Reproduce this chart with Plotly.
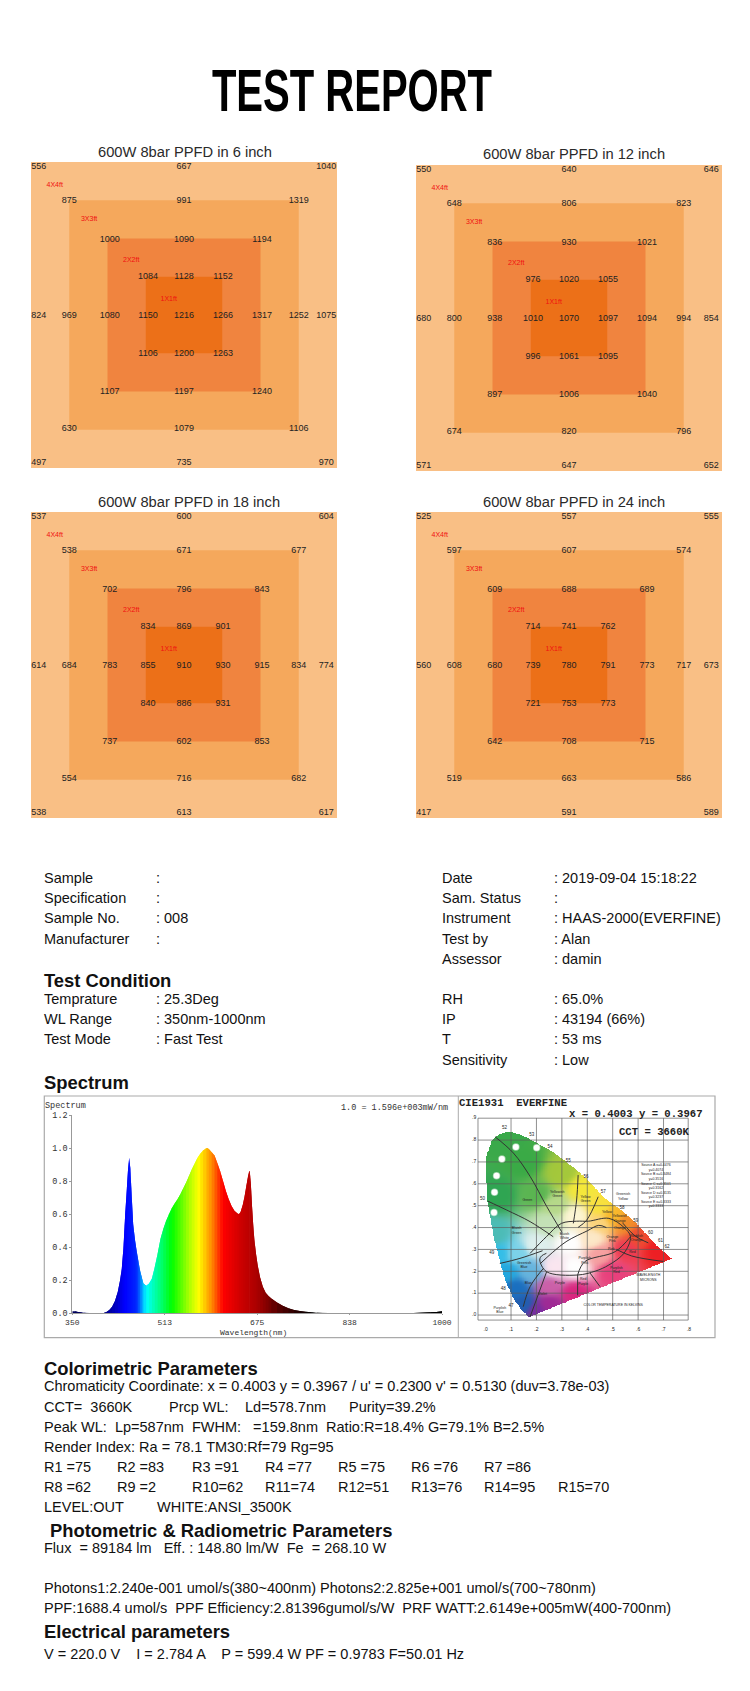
import numpy as np
import plotly.graph_objects as go

W, H = 750, 1691

# ---------- PPFD data ----------
panel_titles = ["600W 8bar PPFD in 6 inch", "600W 8bar PPFD in 12 inch",
                "600W 8bar PPFD in 18 inch", "600W 8bar PPFD in 24 inch"]
ppfd_6 = [[556, 667, 1040], [875, 991, 1319], [1000, 1090, 1194], [1084, 1128, 1152],
          [824, 969, 1080, 1150, 1216, 1266, 1317, 1252, 1075],
          [1106, 1200, 1263], [1107, 1197, 1240], [630, 1079, 1106], [497, 735, 970]]
ppfd_12 = [[550, 640, 646], [648, 806, 823], [836, 930, 1021], [976, 1020, 1055],
           [680, 800, 938, 1010, 1070, 1097, 1094, 994, 854],
           [996, 1061, 1095], [897, 1006, 1040], [674, 820, 796], [571, 647, 652]]
ppfd_18 = [[537, 600, 604], [538, 671, 677], [702, 796, 843], [834, 869, 901],
           [614, 684, 783, 855, 910, 930, 915, 834, 774],
           [840, 886, 931], [737, 602, 853], [554, 716, 682], [538, 613, 617]]
ppfd_24 = [[525, 557, 555], [597, 607, 574], [609, 688, 689], [714, 741, 762],
           [560, 608, 680, 739, 780, 791, 773, 717, 673],
           [721, 753, 773], [642, 708, 715], [519, 663, 586], [417, 591, 589]]
ring_sizes = [4, 3, 2, 1]
ring_names = ["4X4ft", "3X3ft", "2X2ft", "1X1ft"]
ring_colors = ["#F9BF85", "#F5A85C", "#F0843F", "#EC7018"]
col_ft = [-1.90, -1.50, -0.97, -0.47, 0.0, 0.51, 1.02, 1.50, 1.86]
row_ft = [1.94, 1.49, 0.99, 0.50, -0.01, -0.50, -1.00, -1.49, -1.93]
name_x = [-1.69, -1.24, -0.69, -0.20]
name_y = [1.70, 1.25, 0.72, 0.21]

# ---------- Spectrum data ----------
wl = [350, 355, 360, 365, 370, 380, 390, 400, 405, 410, 415, 420, 425, 430, 434, 437, 440, 443, 446, 448, 450, 452, 454,
      457, 460, 463, 466, 469, 472, 475, 480, 485, 490, 495, 500, 505, 510, 515, 520, 525, 530, 535, 540, 545,
      550, 555, 560, 565, 570, 575, 580, 585, 587, 590, 595, 600, 605, 610, 615, 620, 625, 630, 635, 640, 643,
      646, 650, 653, 656, 659, 661, 662, 664, 666, 668, 670, 673, 676, 680, 685, 690, 695, 700, 710, 720, 730,
      740, 750, 760, 770, 780, 800, 850, 900, 950, 980, 990, 1000]
spd = [.012, .012, .008, .006, .004, .002, .001, .001, .002, .008, .02, .04, .075, .13, .20, .27, .40, .60, .76, .87, .94, .88, .74,
       .54, .45, .38, .32, .26, .22, .18, .167, .18, .21, .28, .36, .45, .51, .56, .60, .635, .665, .69, .72, .755,
       .79, .83, .87, .905, .94, .965, .985, .998, 1.0, .995, .975, .955, .91, .86, .80, .74, .69, .65, .62, .605, .60,
       .615, .66, .71, .77, .83, .86, .86, .78, .65, .54, .45, .36, .29, .22, .16, .125, .105, .09, .065, .045, .03,
       .02, .014, .009, .006, .004, .002, .001, .001, .002, .006, .008, .012]
spec_tick_vals = [350, 512.5, 675, 837.5, 1000]
spec_tick_text = ["350", "513", "675", "838", "1000"]
color_stop_nm = [350, 400, 425, 442, 463, 480, 505, 525, 555, 572, 595, 615, 650, 675, 710, 770, 1000]
color_stop_rgb = [(0, 0, 90), (0, 0, 110), (0, 0, 190), (0, 0, 255), (0, 40, 255), (0, 255, 255), (0, 255, 120), (0, 255, 0),
                  (170, 255, 0), (255, 255, 0), (255, 140, 0), (255, 0, 0), (200, 0, 0), (170, 0, 0), (90, 0, 0),
                  (0, 0, 0), (0, 0, 0)]

# ---------- CIE data ----------
locus_x = [.170, .142, .109, .076, .054, .028, .008, .001, .001, .024, .056, .089, .128, .187, .253, .318, .397, .463, .541, .594, .672, .731]
locus_y = [-.008, .023, .076, .160, .252, .373, .511, .633, .724, .800, .831, .838, .831, .797, .755, .701, .625, .541, .473, .419, .320, .259]
anchor_x = [.08, .15, .05, .20, .27, .30, .38, .45, .50, .55, .60, .68, .55, .45, .50, .35, .25, .20, .15, .12, .08, .05, .12, .03, .20, .33, .27, .35, .25, .18, .42, .45, .35, .25]
anchor_y = [.80, .70, .55, .55, .50, .65, .58, .50, .45, .42, .36, .30, .30, .28, .20, .10, .05, .02, .05, .12, .20, .28, .28, .37, .32, .33, .22, .22, .13, .20, .35, .42, .45, .42]
anchor_rgb = [(58, 169, 74), (58, 170, 70), (47, 165, 82), (90, 181, 81), (182, 217, 138), (164, 200, 59), (245, 232, 58), (249, 226, 62),
              (248, 184, 42), (241, 141, 42), (238, 75, 48), (237, 31, 36), (239, 58, 82), (246, 160, 160), (232, 64, 124), (217, 39, 127),
              (160, 42, 149), (122, 45, 160), (31, 95, 176), (26, 111, 191), (34, 168, 223), (51, 190, 232), (125, 211, 234), (76, 188, 182),
              (223, 240, 238), (255, 255, 255), (251, 230, 240), (255, 255, 255), (204, 96, 168), (102, 181, 222), (253, 233, 200),
              (252, 212, 124), (253, 246, 213), (196, 226, 183)]
region_lines = [
    ([.037, .109, .175, .240, .299], [.815, .741, .634, .497, .381]),
    ([.008, .083, .175, .266], [.521, .480, .427, .358]),
    ([.056, .135, .224], [.236, .259, .294]),
    ([.148, .175, .227], [.038, .130, .213]),
    ([.364, .358, .345], [.640, .526, .419]),
    ([.443, .397, .364], [.541, .433, .401]),
    ([.175, .239, .298, .358, .404, .485, .544, .570, .544, .485, .432, .362, .240, .213, .220, .239], [.282, .358, .419, .429, .429, .442, .401, .358, .282, .229, .201, .183, .198, .252, .270, .282]),
    ([.362, .390, .510, .570], [.183, .244, .290, .358]),
    ([.175, .240], [-.008, .198]),
    ([.362, .362], [.183, .090]),
    ([.411, .450], [.192, .130]),
    ([.515, .575, .700], [.300, .270, .245]),
    ([.540, .590, .640], [.420, .360, .330]),
    ([.215, .262, .320, .400, .445, .475], [.235, .285, .338, .385, .410, .400]),
]
white_x = [.119, .201, .064, .043, .035, .033]
white_y = [.768, .765, .713, .637, .561, .469]
cie_labels = ["Green", "Yellowish<br>Green", "Yellow<br>Green", "Greenish<br>Yellow", "Yellow", "Yellowish<br>Orange", "Orange",
              "Reddish<br>Orange", "Pink", "Red", "Orange<br>Pink", "Purplish<br>Red", "Red<br>Purple", "Purple", "Violet", "Blue",
              "Greenish<br>Blue", "Bluish<br>Green", "Purplish<br>Blue", "Purplish<br>Pink", "Bluish<br>White", "COLOR TEMPERATURE IN KELVINS",
              "WAVELENGTH<br>MICRONS", "Source A x=0.4476<br>y=0.4074<br>Source B x=0.3484<br>y=0.3516<br>Source C x=0.3101<br>y=0.3162<br>Source D x=0.3135<br>y=0.3237<br>Source E x=0.3333<br>y=0.3333"]
cie_label_x = [.164, .282, .393, .541, .478, .528, .528, .594, .495, .578, .499, .515, .384, .292, .224, .168, .151, .122, .056, .390, .310, .502, .640, .670]
cie_label_y = [.526, .553, .529, .541, .470, .442, .399, .351, .300, .288, .348, .206, .152, .148, .096, .148, .229, .386, .023, .250, .360, .046, .170, .590]
nm_labels = ["52", "53", "54", "55", "56", "57", "58", "59", "60", "61", "62", "50", "49", "48", "47"]
nm_x = [.074, .182, .253, .325, .395, .463, .537, .591, .649, .688, .714, -.012, .024, .069, .100]
nm_y = [.857, .826, .767, .703, .630, .562, .492, .431, .376, .339, .312, .533, .282, .118, .043]
grid_x = [-.03, .1, .2, .3, .4, .5, .6, .7, .797]
grid_y = [-.023, .0, .1, .2, .3, .4, .5, .6, .7, .8, .9]
axis_x_text = [".0", ".1", ".2", ".3", ".4", ".5", ".6", ".7", ".8"]
axis_x_pos = [0, .1, .2, .3, .4, .5, .6, .7, .8]
axis_y_pos = [0, .1, .2, .3, .4, .5, .6, .7, .8, .9]
axis_y_text = [".0", ".1", ".2", ".3", ".4", ".5", ".6", ".7", ".8", ".9"]

# ---------- Page text ----------
info_left = [("Sample", ":"), ("Specification", ":"), ("Sample No.", ": 008"), ("Manufacturer", ":")]
info_right = [("Date", ": 2019-09-04 15:18:22"), ("Sam. Status", ":"), ("Instrument", ": HAAS-2000(EVERFINE)"),
              ("Test by", ": Alan"), ("Assessor", ": damin")]
cond_left = [("Temprature", ": 25.3Deg"), ("WL Range", ": 350nm-1000nm"), ("Test Mode", ": Fast Test")]
cond_right = [("RH", ": 65.0%"), ("IP", ": 43194 (66%)"), ("T", ": 53 ms"), ("Sensitivity", ": Low")]
r_row1 = ["R1 =75", "R2 =83", "R3 =91", "R4 =77", "R5 =75", "R6 =76", "R7 =86"]
r_row2 = ["R8 =62", "R9 =2", "R10=62", "R11=74", "R12=51", "R13=76", "R14=95", "R15=70"]

SANS = "Liberation Sans"
MONO = "Liberation Mono"


def dx(a, b):
    return [a / W, b / W]


def dy(top, bot):
    return [1 - bot / H, 1 - top / H]


fig = go.Figure()
layout = dict(width=W, height=H, margin=dict(l=0, r=0, t=0, b=0, pad=0, autoexpand=False), autosize=False,
              paper_bgcolor="white", plot_bgcolor="white", showlegend=False)
annots = []
shapes = []


def txt(px, py, s, size=14, bold=False, family=SANS, color="#111", anchor="left"):
    if anchor == "left":
        px -= 1.5
    annots.append(dict(x=px / W, y=1 - py / H, xref="paper", yref="paper", text=s, showarrow=False,
                       xanchor=anchor, yanchor="middle", align="left", borderpad=0,
                       font=dict(size=size, family=family, color=color, weight="bold" if bold else "normal")))


hidden = dict(visible=False, fixedrange=True)
panel_boxes = [(31, 162), (416, 165), (31, 512), (416, 512)]
title_pos = [(185, 152), (574, 154), (189, 502), (574, 502)]
panel_data = [ppfd_6, ppfd_12, ppfd_18, ppfd_24]
for k, (data, (bx, by)) in enumerate(zip(panel_data, panel_boxes)):
    idx = k + 1
    layout[f"xaxis{idx}"] = dict(domain=dx(bx, bx + 306), range=[-2, 2], anchor=f"y{idx}", **hidden)
    layout[f"yaxis{idx}"] = dict(domain=dy(by, by + 306), range=[-2, 2], anchor=f"x{idx}", **hidden)
    for size, color in zip(ring_sizes, ring_colors):
        h = size / 2
        fig.add_trace(go.Scatter(x=[-h, h, h, -h, -h], y=[-h, -h, h, h, -h], mode="lines", fill="toself",
                                 fillcolor=color, line=dict(width=0), hoverinfo="skip",
                                 xaxis=f"x{idx}", yaxis=f"y{idx}"))
    xs, ys, ts = [], [], []
    for r, row in enumerate(data):
        if len(row) == 9:
            cols = list(range(9))
        else:
            c = min(r, 8 - r)
            cols = [c, 4, 8 - c]
        for c, v in zip(cols, row):
            xs.append(col_ft[c]); ys.append(row_ft[r]); ts.append(str(v))
    fig.add_trace(go.Scatter(x=xs, y=ys, text=ts, mode="text", hoverinfo="skip",
                             textfont=dict(size=9, family=SANS, color="#222"), xaxis=f"x{idx}", yaxis=f"y{idx}"))
    fig.add_trace(go.Scatter(x=name_x, y=name_y, text=ring_names, mode="text", hoverinfo="skip",
                             textfont=dict(size=7, family=SANS, color="#F01010"), xaxis=f"x{idx}", yaxis=f"y{idx}"))
    txt(title_pos[k][0], title_pos[k][1], panel_titles[k], size=14.7, color="#2a2a2a", anchor="center")

# Spectrum
layout["xaxis5"] = dict(domain=dx(72.3, 442), range=[350, 1000], anchor="y5", tickvals=spec_tick_vals, ticktext=spec_tick_text,
                        showgrid=False, zeroline=False, showline=True, linecolor="#999", linewidth=1, ticks="outside", ticklen=1,
                        tickcolor="#999", tickfont=dict(size=8, family=MONO, color="#333"), fixedrange=True)
layout["yaxis5"] = dict(domain=dy(1115, 1313.3), range=[0, 1.2], anchor="x5", tickvals=[0, .2, .4, .6, .8, 1.0, 1.2],
                        ticktext=["0.0", "0.2", "0.4", "0.6", "0.8", "1.0", "1.2"], showgrid=False, zeroline=False,
                        showline=True, linecolor="#999", linewidth=1, ticks="outside", ticklen=2, tickcolor="#999",
                        tickfont=dict(size=8.5, family=MONO, color="#333"), fixedrange=True)


def spec_color(n):
    c = [np.interp(n, color_stop_nm, [rgb[i] for rgb in color_stop_rgb]) for i in range(3)]
    return "rgb(%d,%d,%d)" % tuple(c)


for i in range(len(wl) - 1):
    j = min(i + 2, len(wl) - 1)
    sx = wl[i:j + 1]
    sy = spd[i:j + 1]
    fig.add_trace(go.Scatter(x=[sx[0]] + sx + [sx[-1]], y=[0] + sy + [0], mode="lines", fill="toself",
                             fillcolor=spec_color((wl[i] + wl[i + 1]) / 2), line=dict(width=0), hoverinfo="skip",
                             xaxis="x5", yaxis="y5"))
txt(45.5, 1106, "Spectrum", size=8.5, family=MONO, color="#333")
txt(449, 1108, "1.0 = 1.596e+003mW/nm", size=8.5, family=MONO, color="#333", anchor="right")
txt(253, 1332.5, "Wavelength(nm)", size=8, family=MONO, color="#333", anchor="center")

# CIE panel
CX0, CX1, CY0, CY1 = 458.3, 715, 1096, 1337.7
x_rng = [-.1075, .9025]
y_rng = [-.1036, 1.0015]
layout["xaxis6"] = dict(domain=dx(CX0, CX1), range=x_rng, anchor="y6", **hidden)
layout["yaxis6"] = dict(domain=dy(CY0, CY1), range=[-y_rng[0], -y_rng[1]], anchor="x6", scaleanchor=False, constrain="range", **hidden)
layout["xaxis7"] = dict(domain=dx(CX0, CX1), range=x_rng, anchor="y7", overlaying="x6", **hidden)
layout["yaxis7"] = dict(domain=dy(CY0, CY1), range=y_rng, anchor="x7", overlaying="y6", **hidden)

# fill of the chromaticity diagram: inverse-distance blend of the anchor colours, masked by the locus outline
step = 0.0025
gx = np.arange(-.01, .75, step)
gy = np.arange(.86, -.02, -step)
XX, YY = np.meshgrid(gx, gy)
ax_, ay_, ac_ = np.array(anchor_x), np.array(anchor_y), np.array(anchor_rgb, float)
d2 = (XX[..., None] - ax_) ** 2 + (YY[..., None] - ay_) ** 2 + 6e-4
wgt = 1 / d2 ** 2.2
rgb = (wgt[..., None] * ac_).sum(axis=2) / wgt.sum(axis=2)[..., None]
lx, ly = np.array(locus_x), np.array(locus_y)
inside = np.zeros(XX.shape, bool)
for a in range(len(lx)):
    b = (a + 1) % len(lx)
    cond = (ly[a] > YY) != (ly[b] > YY)
    with np.errstate(divide="ignore", invalid="ignore"):
        xint = lx[a] + (YY - ly[a]) * (lx[b] - lx[a]) / (ly[b] - ly[a])
    inside ^= cond & (XX < xint)
img = np.where(inside[..., None], rgb, 255).astype(np.uint8)
fig.add_trace(go.Image(z=img, x0=gx[0], dx=step, y0=-gy[0], dy=step, xaxis="x6", yaxis="y6", hoverinfo="skip"))

gl_x, gl_y = [], []
for gx_ in grid_x:
    gl_x += [gx_, gx_, None]; gl_y += [-.023, .9, None]
for gy_ in grid_y:
    gl_x += [-.03, .797, None]; gl_y += [gy_, gy_, None]
fig.add_trace(go.Scatter(x=gl_x, y=gl_y, mode="lines", line=dict(color="rgba(90,90,90,0.75)", width=0.9), hoverinfo="skip",
                         xaxis="x7", yaxis="y7"))
for lxs, lys in region_lines:
    fig.add_trace(go.Scatter(x=lxs, y=lys, mode="lines", line=dict(color="#333", width=1, shape="spline"), hoverinfo="skip",
                             xaxis="x7", yaxis="y7"))
fig.add_trace(go.Scatter(x=white_x, y=white_y, mode="markers", marker=dict(size=6, color="white", symbol="circle", line=dict(width=1.5, color="rgba(255,255,255,.5)")),
                         hoverinfo="skip", xaxis="x7", yaxis="y7"))
fig.add_trace(go.Scatter(x=cie_label_x, y=cie_label_y, text=cie_labels, mode="text", hoverinfo="skip",
                         textfont=dict(size=3.5, family=SANS, color="#222"), xaxis="x7", yaxis="y7"))
fig.add_trace(go.Scatter(x=nm_x, y=nm_y, text=nm_labels, mode="text", hoverinfo="skip",
                         textfont=dict(size=4.5, family=SANS, color="#222"), xaxis="x7", yaxis="y7"))
fig.add_trace(go.Scatter(x=axis_x_pos, y=[-.065] * len(axis_x_pos), text=axis_x_text, mode="text", hoverinfo="skip",
                         textfont=dict(size=5, family=SANS, color="#222"), xaxis="x7", yaxis="y7"))
fig.add_trace(go.Scatter(x=[-.045] * len(axis_y_pos), y=axis_y_pos, text=axis_y_text, mode="text", hoverinfo="skip",
                         textfont=dict(size=5, family=SANS, color="#222"), xaxis="x7", yaxis="y7"))
txt(459, 1103, "CIE1931  EVERFINE", size=10.6, bold=True, family=MONO, color="#222")
txt(569, 1114, "x = 0.4003 y = 0.3967", size=10.6, bold=True, family=MONO, color="#222")
txt(619, 1132, "CCT = 3660K", size=10.6, bold=True, family=MONO, color="#222")

shapes.append(dict(type="rect", xref="paper", yref="paper", x0=44.3 / W, x1=715 / W, y0=1 - 1337.7 / H, y1=1 - 1096 / H,
                   line=dict(color="#aaa", width=1.2), fillcolor="rgba(0,0,0,0)"))
shapes.append(dict(type="line", xref="paper", yref="paper", x0=458.3 / W, x1=458.3 / W, y0=1 - 1337.7 / H, y1=1 - 1096 / H,
                   line=dict(color="#aaa", width=1)))

# Title
txt(351.5, 90, "TEST REPORT", size=60, bold=True, color="#000", anchor="center")

# Report text
BODY = 14.5
HEAD = 18.4
LX, LV, RX, RV = 44.8, 156.5, 442.4, 554.6
for (name, val), py in zip(info_left, [878.3, 898.3, 918.3, 939]):
    txt(LX, py, name, BODY); txt(LV, py, val, BODY)
for (name, val), py in zip(info_right, [878.3, 898.3, 918.3, 939, 959.3]):
    txt(RX, py, name, BODY); txt(RV, py, val, BODY)
txt(LX, 980.7, "Test Condition", HEAD, True)
for (name, val), py in zip(cond_left, [999.3, 1019.3, 1039.3]):
    txt(LX, py, name, BODY); txt(LV, py, val, BODY)
for (name, val), py in zip(cond_right, [999.3, 1019.3, 1039.3, 1060]):
    txt(RX, py, name, BODY); txt(RV, py, val, BODY)
txt(LX, 1082.7, "Spectrum", HEAD, True)
txt(LX, 1368.3, "Colorimetric Parameters", HEAD, True)
txt(LX, 1386, "Chromaticity Coordinate: x = 0.4003 y = 0.3967 / u' = 0.2300 v' = 0.5130 (duv=3.78e-03)", BODY)
txt(LX, 1406.7, "CCT=  3660K", BODY); txt(169.4, 1406.7, "Prcp WL:", BODY); txt(245, 1406.7, "Ld=578.7nm", BODY); txt(349.6, 1406.7, "Purity=39.2%", BODY)
txt(LX, 1426.7, "Peak WL:  Lp=587nm  FWHM:   =159.8nm  Ratio:R=18.4% G=79.1% B=2.5%", BODY)
txt(LX, 1446.7, "Render Index: Ra = 78.1 TM30:Rf=79 Rg=95", BODY)
r_cols = [44.8, 117.6, 192, 265.5, 338.8, 411, 484.5, 558]
for s, px in zip(r_row1, r_cols):
    txt(px, 1466.7, s, BODY)
for s, px in zip(r_row2, r_cols):
    txt(px, 1487, s, BODY)
txt(LX, 1507.3, "LEVEL:OUT", BODY); txt(157.5, 1507.3, "WHITE:ANSI_3500K", BODY)
txt(50, 1530, "Photometric &amp; Radiometric Parameters", HEAD, True)
txt(LX, 1547.7, "Flux  = 89184 lm   Eff. : 148.80 lm/W  Fe  = 268.10 W", BODY)
txt(LX, 1588, "Photons1:2.240e-001 umol/s(380~400nm) Photons2:2.825e+001 umol/s(700~780nm)", BODY)
txt(LX, 1608.3, "PPF:1688.4 umol/s  PPF Efficiency:2.81396gumol/s/W  PRF WATT:2.6149e+005mW(400-700nm)", BODY)
txt(LX, 1631, "Electrical parameters", HEAD, True)
txt(LX, 1654, "V = 220.0 V    I = 2.784 A    P = 599.4 W PF = 0.9783 F=50.01 Hz", BODY)

layout["annotations"] = annots
layout["shapes"] = shapes
fig.update_layout(**layout)

post = """
document.documentElement.style.margin='0';
document.body.style.margin='0';
document.querySelectorAll('g.annotation text').forEach(function(t){
  if(t.textContent==='TEST REPORT'){
    var b=t.getBBox(); var c=b.x+b.width/2;
    t.setAttribute('transform','translate('+c+',0) scale(0.667,1) translate('+(-c)+',0)');
  }
});
"""
fig.write_html("out.html", config={"displayModeBar": False}, post_script=post)
